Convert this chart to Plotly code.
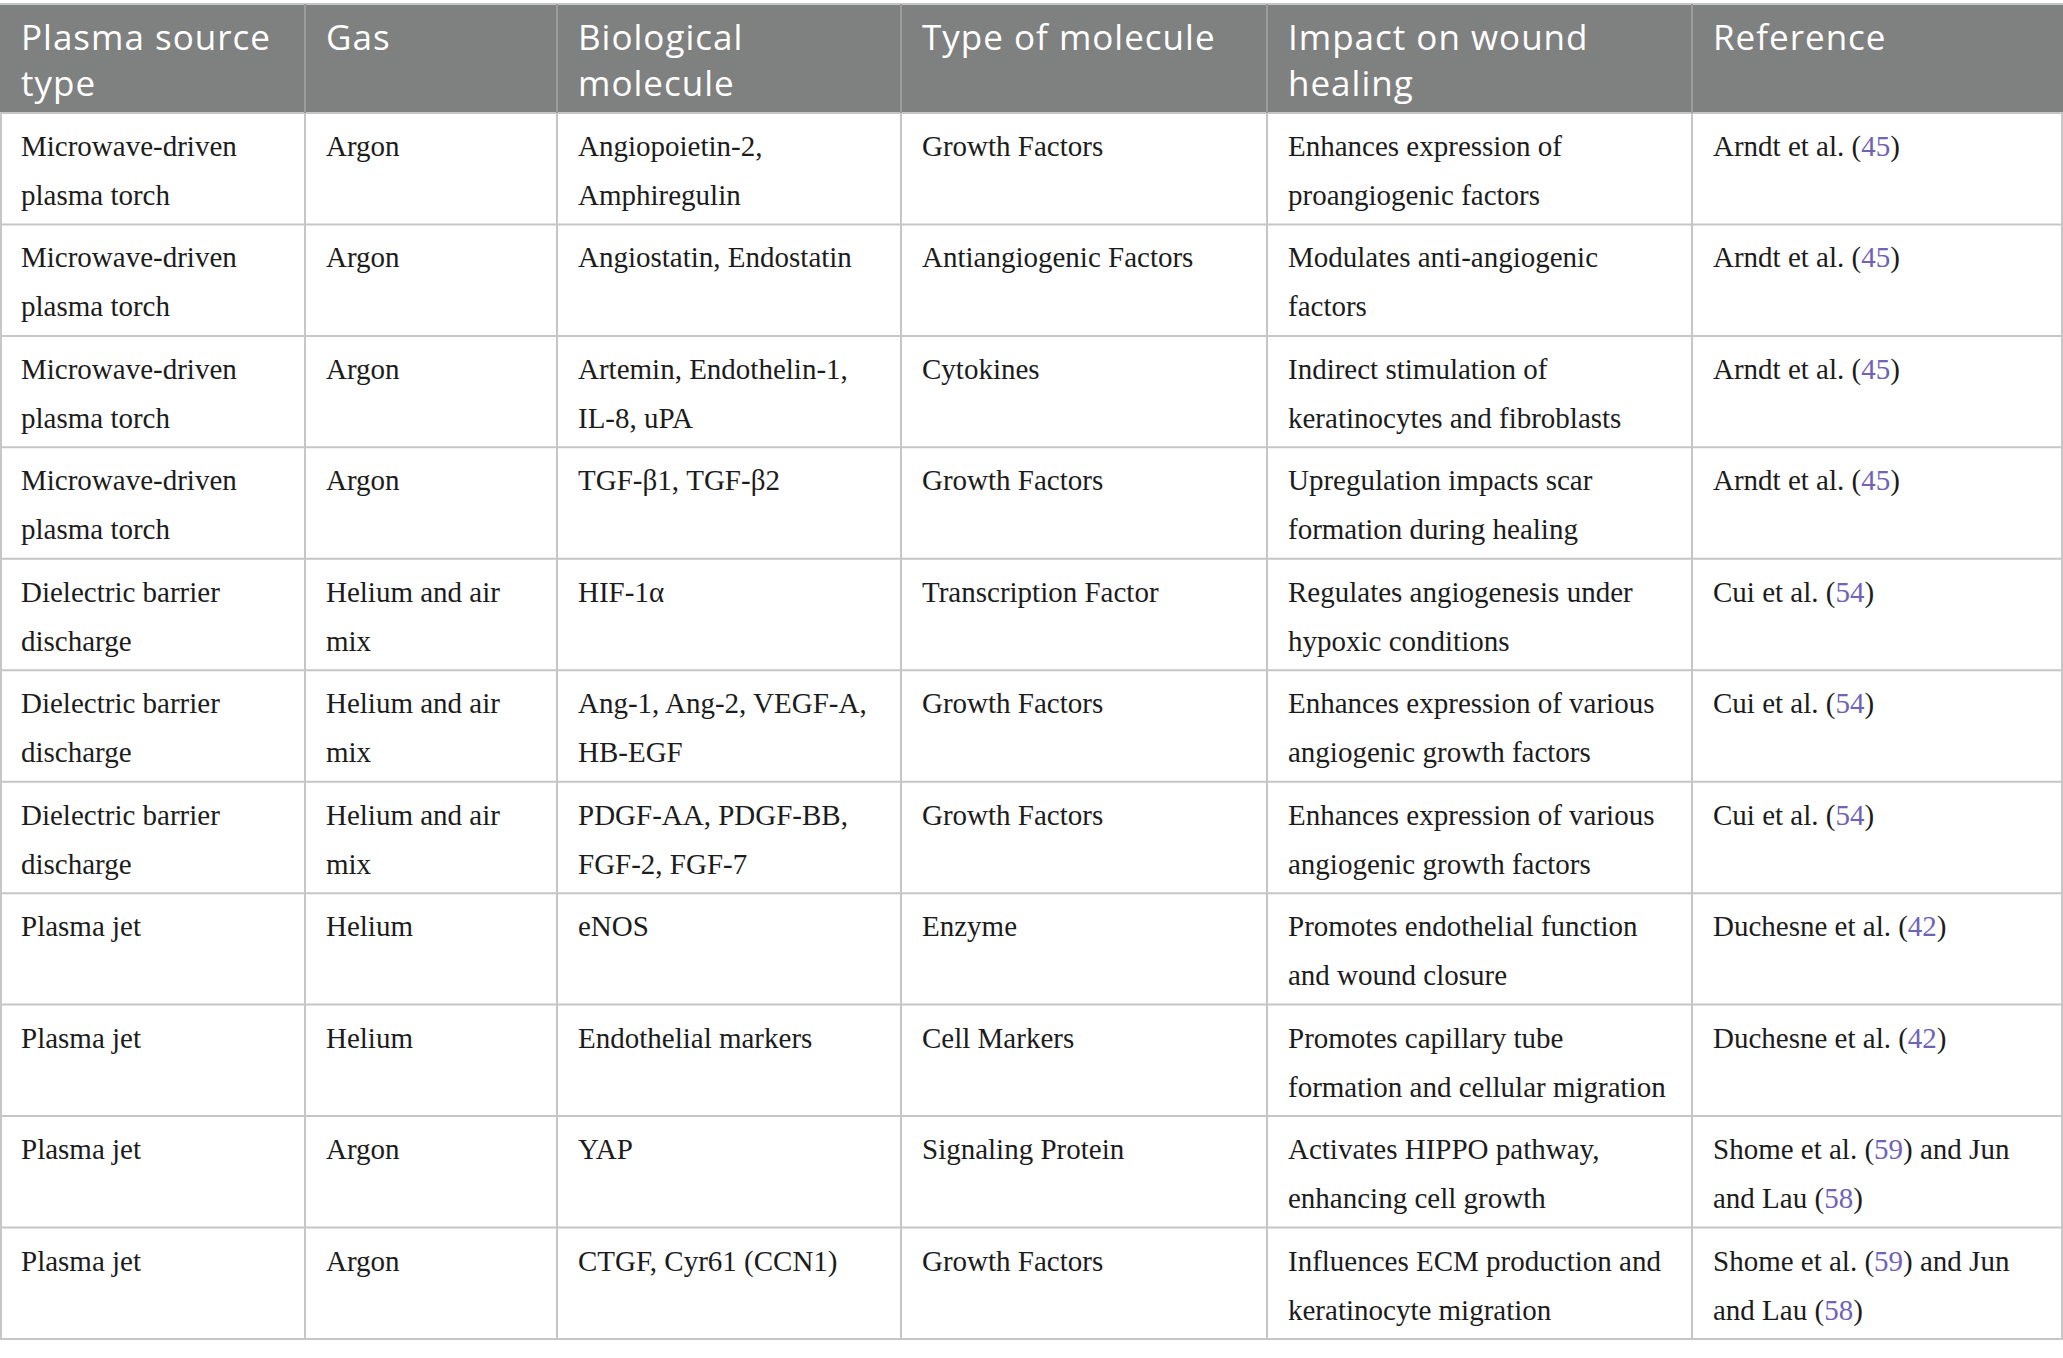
import re
import plotly.graph_objects as go

# table content, line breaks as in the printed table
headers = ["Plasma source<br>type", "Gas", "Biological<br>molecule",
           "Type of molecule", "Impact on wound<br>healing", "Reference"]

plasma_source = ["Microwave-driven<br>plasma torch"] * 4 + \
                ["Dielectric barrier<br>discharge"] * 3 + \
                ["Plasma jet"] * 4

gas = ["Argon"] * 4 + ["Helium and air<br>mix"] * 3 + \
      ["Helium", "Helium", "Argon", "Argon"]

molecule = ["Angiopoietin-2,<br>Amphiregulin",
            "Angiostatin, Endostatin",
            "Artemin, Endothelin-1,<br>IL-8, uPA",
            "TGF-β1, TGF-β2",
            "HIF-1α",
            "Ang-1, Ang-2, VEGF-A,<br>HB-EGF",
            "PDGF-AA, PDGF-BB,<br>FGF-2, FGF-7",
            "eNOS",
            "Endothelial markers",
            "YAP",
            "CTGF, Cyr61 (CCN1)"]

molecule_type = ["Growth Factors", "Antiangiogenic Factors", "Cytokines",
                 "Growth Factors", "Transcription Factor", "Growth Factors",
                 "Growth Factors", "Enzyme", "Cell Markers",
                 "Signaling Protein", "Growth Factors"]

impact = ["Enhances expression of<br>proangiogenic factors",
          "Modulates anti-angiogenic<br>factors",
          "Indirect stimulation of<br>keratinocytes and fibroblasts",
          "Upregulation impacts scar<br>formation during healing",
          "Regulates angiogenesis under<br>hypoxic conditions",
          "Enhances expression of various<br>angiogenic growth factors",
          "Enhances expression of various<br>angiogenic growth factors",
          "Promotes endothelial function<br>and wound closure",
          "Promotes capillary tube<br>formation and cellular migration",
          "Activates HIPPO pathway,<br>enhancing cell growth",
          "Influences ECM production and<br>keratinocyte migration"]

reference = ["Arndt et al. (45)"] * 4 + ["Cui et al. (54)"] * 3 + \
            ["Duchesne et al. (42)"] * 2 + \
            ["Shome et al. (59) and Jun<br>and Lau (58)"] * 2

columns = [plasma_source, gas, molecule, molecule_type, impact, reference]

# layout (pixels)
W, H = 2063, 1358
col_widths = [305, 252, 344, 366, 425, 371]
TOP = 4
HEAD_H = 109
ROW_H = 111.45
PAD_X = 21
HEAD_BASE = 46
BODY_BASE, BODY_GAP = 43, 49
HEAD_FS, BODY_FS = 35, 29
DROP = 0.75  # "bottom" text: first baseline sits 0.75em under the point

HEAD_COLOR = "#7f8180"
GRID = "#c6c6c6"
LINK = "#6f63b5"

col_left = [sum(col_widths[:i]) for i in range(len(col_widths))]
n_rows = len(plasma_source)
row_top = [TOP + HEAD_H + i * ROW_H for i in range(n_rows)]
bottom = TOP + HEAD_H + n_rows * ROW_H


def cite(s):
    return re.sub(r"\((\d+)\)", r"(<span style='color:%s'>\1</span>)" % LINK, s)


def spaced(s):
    return "<br>".join("<span style='letter-spacing:1px'>%s</span>" % p
                       for p in s.split("<br>"))


fig = go.Figure()

# header text
fig.add_trace(go.Scatter(
    x=[l + PAD_X for l in col_left],
    y=[TOP + HEAD_BASE - DROP * HEAD_FS] * len(headers),
    text=[spaced(h) for h in headers], mode="text",
    textposition="bottom right", hoverinfo="skip",
    textfont=dict(family="Open Sans", size=HEAD_FS, color="white")))

# body text, one mark per printed line
for c, col in enumerate(columns):
    bx, by, bt = [], [], []
    for r, cell in enumerate(col):
        for k, line in enumerate(cell.split("<br>")):
            bx.append(col_left[c] + PAD_X)
            by.append(row_top[r] + BODY_BASE + k * BODY_GAP - DROP * BODY_FS)
            bt.append(cite(line))
    fig.add_trace(go.Scatter(x=bx, y=by, text=bt, mode="text",
                             textposition="bottom right", hoverinfo="skip",
                             textfont=dict(family="Liberation Serif",
                                           size=BODY_FS, color="#1c1c1c")))

# header band and grid lines
shapes = [dict(type="rect", x0=0, x1=W, y0=TOP, y1=TOP + HEAD_H,
               fillcolor=HEAD_COLOR, line_width=0, layer="below")]
for y in [TOP, TOP + HEAD_H] + [t + ROW_H for t in row_top]:
    shapes.append(dict(type="line", x0=0, x1=W, y0=y, y1=y,
                       line=dict(color=GRID, width=2), layer="below"))
for x in col_left[1:]:
    shapes.append(dict(type="line", x0=x, x1=x, y0=TOP, y1=TOP + HEAD_H,
                       line=dict(color="#9a9b9a", width=2), layer="below"))
for x in [1] + col_left[1:] + [W - 1]:
    shapes.append(dict(type="line", x0=x, x1=x, y0=TOP + HEAD_H, y1=bottom,
                       line=dict(color=GRID, width=2), layer="below"))

fig.update_layout(
    width=W, height=H,
    margin=dict(l=0, r=0, t=0, b=0),
    paper_bgcolor="white", plot_bgcolor="white",
    showlegend=False,
    shapes=shapes,
    xaxis=dict(range=[0, W], visible=False, fixedrange=True),
    yaxis=dict(range=[H, 0], visible=False, fixedrange=True),
)

fig.write_html("out.html", config={"displayModeBar": False},
               post_script="document.body.style.margin='0';")
